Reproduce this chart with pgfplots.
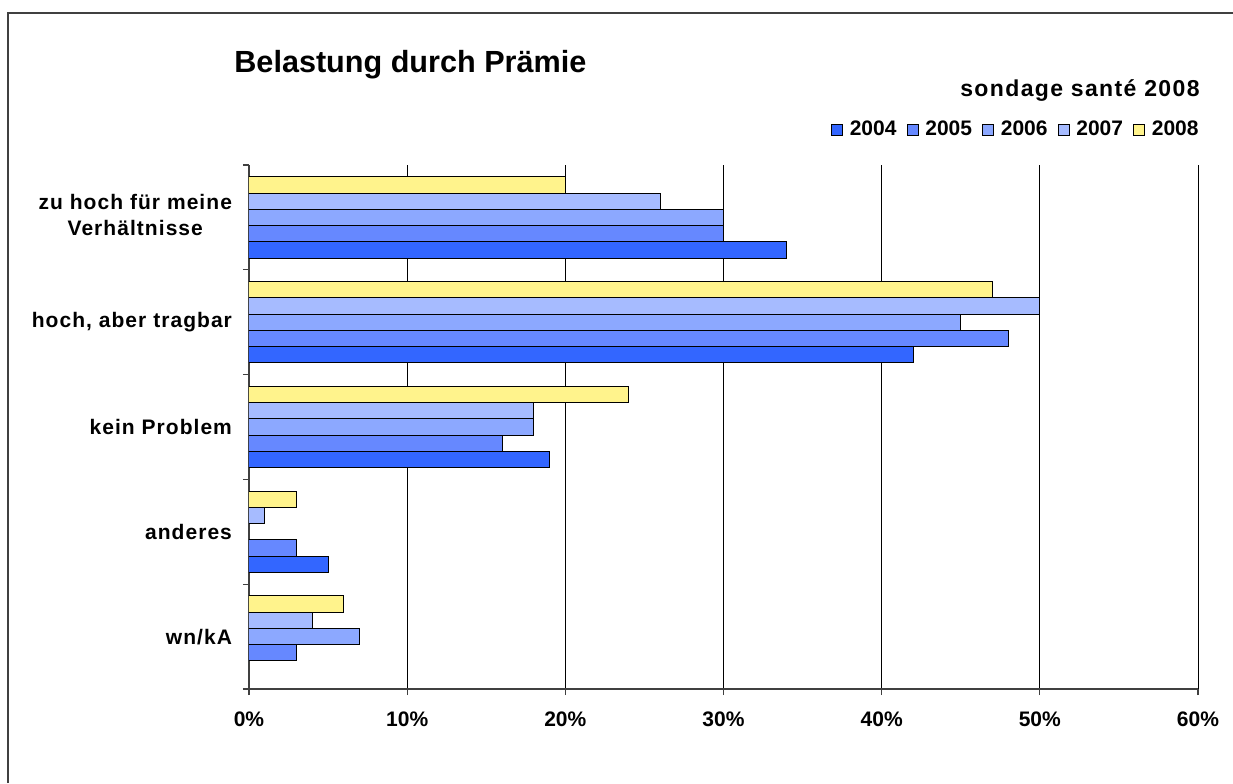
\documentclass[border=0pt]{standalone}
\usepackage{pgfplots}
\pgfplotsset{compat=1.18}
\usepackage{fontspec}
\setmainfont{Liberation Sans}
\definecolor{c2004}{HTML}{3366FF}
\definecolor{c2005}{HTML}{6688FF}
\definecolor{c2006}{HTML}{8CA8FF}
\definecolor{c2007}{HTML}{A6BBFF}
\definecolor{c2008}{HTML}{FFF38C}
\definecolor{axgray}{HTML}{404040}
\begin{document}
\begin{tikzpicture}
\useasboundingbox (0,0) rectangle (616.5pt,391.5pt);
\fill[white] (0,0) rectangle (616.5pt,391.5pt);
\draw[axgray, line width=1pt] (4pt,0) -- (4pt,385pt) -- (616.5pt,385pt);
\node[anchor=base west, inner sep=0, font=\fontsize{15.3}{18}\selectfont\bfseries] at (117pt,355pt) {Belastung durch Prämie};
\node[anchor=base east, inner sep=0, font=\fontsize{11.5}{13}\selectfont\bfseries\addfontfeatures{LetterSpace=6}] at (600pt,343pt) {sondage santé 2008};
\begin{axis}[
  width=474.5pt, height=262pt, scale only axis,
  at={(124.5pt,47pt)}, anchor=south west,
  xmin=0, xmax=60, ymin=-0.5, ymax=4.5,
  axis x line*=bottom, axis y line*=left,
  axis line style={axgray, line width=1pt},
  xmajorgrids, grid style={black, line width=0.5pt},
  tick align=outside, major tick length=3pt,
  tick style={axgray, line width=0.6pt},
  xtick={0,10,20,30,40,50,60},
  xticklabels={0\%,10\%,20\%,30\%,40\%,50\%,60\%},
  xticklabel style={font=\fontsize{10.5}{12}\selectfont\bfseries, yshift=-5pt},
  ytick={-0.5,0.5,1.5,2.5,3.5,4.5},
  y tick label as interval,
  yticklabels={{wn/kA},{anderes},{kein Problem},{hoch, aber tragbar},{\begin{tabular}{@{}c@{}}zu hoch für meine\\Verhältnisse\end{tabular}}},
  yticklabel style={font=\fontsize{10.5}{13}\selectfont\bfseries\addfontfeatures{LetterSpace=5}, xshift=-2pt},
  legend columns=5,
  legend style={at={(1,1.067)}, anchor=east, xshift=2.5pt, draw=none, fill=none, inner sep=0pt,
    font=\fontsize{10.5}{12}\selectfont\bfseries,
    /tikz/every odd column/.append style={column sep=1.5pt},
    /tikz/every even column/.append style={column sep=3pt}},
  legend image code/.code={\draw[#1, draw=black, line width=0.4pt] (0pt,-2.75pt) rectangle (5.5pt,2.75pt);},
]
\addplot[xbar, bar width=0.155, bar shift=-0.31, fill=c2004, draw=black, line width=0.5pt]
  coordinates {(5,1) (19,2) (42,3) (34,4)};
\addlegendentry{2004}
\addplot[xbar, bar width=0.155, bar shift=-0.155, fill=c2005, draw=black, line width=0.5pt]
  coordinates {(3,0) (3,1) (16,2) (48,3) (30,4)};
\addlegendentry{2005}
\addplot[xbar, bar width=0.155, bar shift=0, fill=c2006, draw=black, line width=0.5pt]
  coordinates {(7,0) (18,2) (45,3) (30,4)};
\addlegendentry{2006}
\addplot[xbar, bar width=0.155, bar shift=0.155, fill=c2007, draw=black, line width=0.5pt]
  coordinates {(4,0) (1,1) (18,2) (50,3) (26,4)};
\addlegendentry{2007}
\addplot[xbar, bar width=0.155, bar shift=0.31, fill=c2008, draw=black, line width=0.5pt]
  coordinates {(6,0) (3,1) (24,2) (47,3) (20,4)};
\addlegendentry{2008}
\end{axis}
\end{tikzpicture}
\end{document}
